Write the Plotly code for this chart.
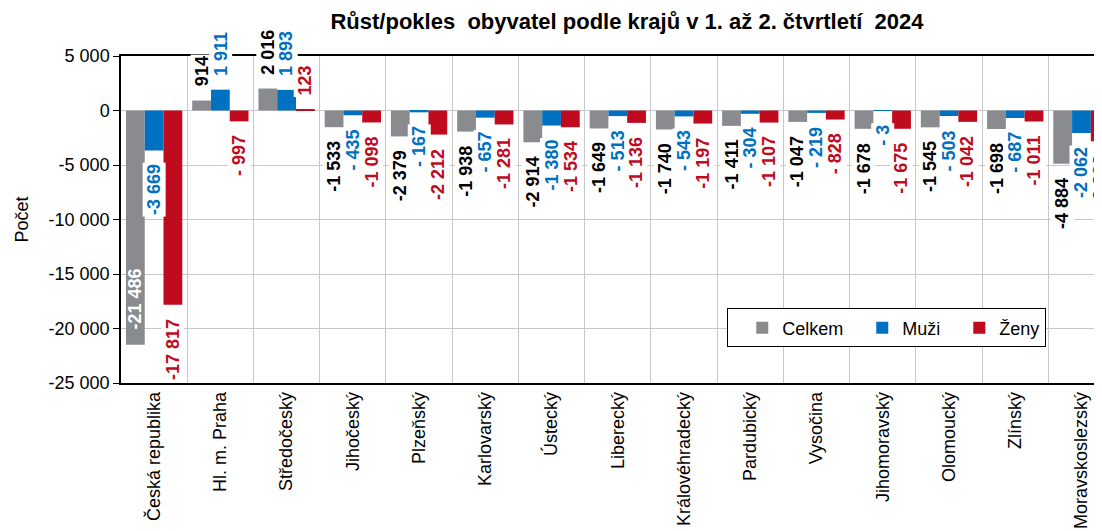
import plotly.graph_objects as go

categories = ["Česká republika", "Hl. m. Praha", "Středočeský", "Jihočeský", "Plzeňský",
              "Karlovarský", "Ústecký", "Liberecký", "Královéhradecký", "Pardubický",
              "Vysočina", "Jihomoravský", "Olomoucký", "Zlínský", "Moravskoslezský"]
celkem = [-21486, 914, 2016, -1533, -2379, -1938, -2914, -1649, -1740, -1411, -1047, -1678, -1545, -1698, -4884]
muzi = [-3669, 1911, 1893, -435, -167, -657, -1380, -513, -543, -304, -219, -3, -503, -687, -2062]
zeny = [-17817, -997, 123, -1098, -2212, -1281, -1534, -1136, -1197, -1107, -828, -1675, -1042, -1011, -2822]
series_names = ["Celkem", "Muži", "Ženy"]
ytick_vals = [5000, 0, -5000, -10000, -15000, -20000, -25000]
ytick_text = ["5 000", "0", "-5 000", "-10 000", "-15 000", "-20 000", "-25 000"]

bar_colors = ["#898B8E", "#0070C0", "#C00A1E"]
label_colors = ["#000000", "#0070C0", "#C00A1E"]
FONT = "Liberation Sans, Arial, sans-serif"
BARGAP = 0.15
YMIN, YMAX = -25000, 5000

# the page body has an 8px default margin; size the figure so it fits the window
BODY = 8
FIG_W, FIG_H = 1102 - BODY, 531 - BODY


def fmt(v):
    s = f"{abs(v):,}".replace(",", " ")
    if v < 0:
        return ("-" if abs(v) >= 1000 else "- ") + s
    return s


fig = go.Figure()
all_series = [celkem, muzi, zeny]
for name, vals, col in zip(series_names, all_series, bar_colors):
    fig.add_trace(go.Bar(x=categories, y=vals, name=name, marker_color=col,
                         marker_line_width=0))

w = (1 - BARGAP) / len(all_series)
annotations = []
for j, (vals, lc, bc) in enumerate(zip(all_series, label_colors, bar_colors)):
    for i, v in enumerate(vals):
        xpos = i + (j - (len(all_series) - 1) / 2) * w
        inside = abs(v) > 15000 and j == 0
        if inside:
            annotations.append(dict(x=xpos, y=v, xref="x", yref="y", text=fmt(v),
                                    textangle=-90, showarrow=False, yanchor="bottom",
                                    yshift=13, font=dict(family=FONT, size=18, color="white",
                                                         weight="bold")))
        else:
            annotations.append(dict(x=xpos, y=v, xref="x", yref="y", text=fmt(v),
                                    textangle=-90, showarrow=False,
                                    yanchor="top" if v < 0 else "bottom",
                                    yshift=-12 if v < 0 else 12,
                                    bgcolor="white", borderpad=1,
                                    font=dict(family=FONT, size=18, color=lc, weight="bold")))

xrange = [-0.5, 14.31]
zero_pos = (0 - YMIN) / (YMAX - YMIN)
boundaries = [k + 0.5 for k in range(len(categories) - 1)]

fig.update_layout(
    width=FIG_W, height=FIG_H,
    margin=dict(l=121 - BODY, r=0, t=56 - BODY, b=148, autoexpand=False),
    paper_bgcolor="white", plot_bgcolor="white",
    barmode="group", bargap=BARGAP, bargroupgap=0,
    font=dict(family=FONT, size=18, color="black"),
    title=dict(text="<b>Růst/pokles  obyvatel podle krajů v 1. až 2. čtvrtletí  2024</b>",
               x=(627 - BODY) / FIG_W, xref="container", xanchor="center",
               y=1 - (21 - BODY) / FIG_H, yref="container", yanchor="middle",
               font=dict(family=FONT, size=22, color="black")),
    xaxis=dict(type="category", range=xrange, tickson="boundaries", showgrid=True,
               gridcolor="#C8C8C8", gridwidth=1, ticks="", showline=True, linecolor="black",
               linewidth=1.5, mirror=True, tickangle=-90,
               tickfont=dict(family=FONT, size=18, color="black")),
    xaxis2=dict(overlaying="x", anchor="free", position=zero_pos, range=xrange,
                showgrid=False, zeroline=False, showline=True, linecolor="black", linewidth=1.5,
                ticks="outside", ticklen=4, tickcolor="black", tickwidth=1.5,
                tickvals=boundaries, showticklabels=False, layer="above traces"),
    xaxis3=dict(overlaying="x", anchor="free", position=zero_pos, range=xrange,
                showgrid=False, zeroline=False, showline=False,
                ticks="inside", ticklen=4, tickcolor="black", tickwidth=1.5,
                tickvals=boundaries, showticklabels=False, layer="above traces"),
    yaxis=dict(range=[YMIN, YMAX], tickvals=ytick_vals, ticktext=ytick_text,
               showgrid=True, gridcolor="#C8C8C8", gridwidth=1, zeroline=False,
               showline=True, linecolor="black", linewidth=1.5, ticks="outside",
               ticklen=6, tickcolor="black",
               title=dict(text="Počet", font=dict(family=FONT, size=18, color="black")),
               tickfont=dict(family=FONT, size=18, color="black")),
    legend=dict(orientation="h", x=0.618, y=0.228, xanchor="left", yanchor="top",
                bordercolor="black", borderwidth=1, bgcolor="white",
                indentation=14,
                font=dict(family=FONT, size=18, color="black")),
    annotations=annotations,
    showlegend=True,
)

fig.write_html("out.html")
